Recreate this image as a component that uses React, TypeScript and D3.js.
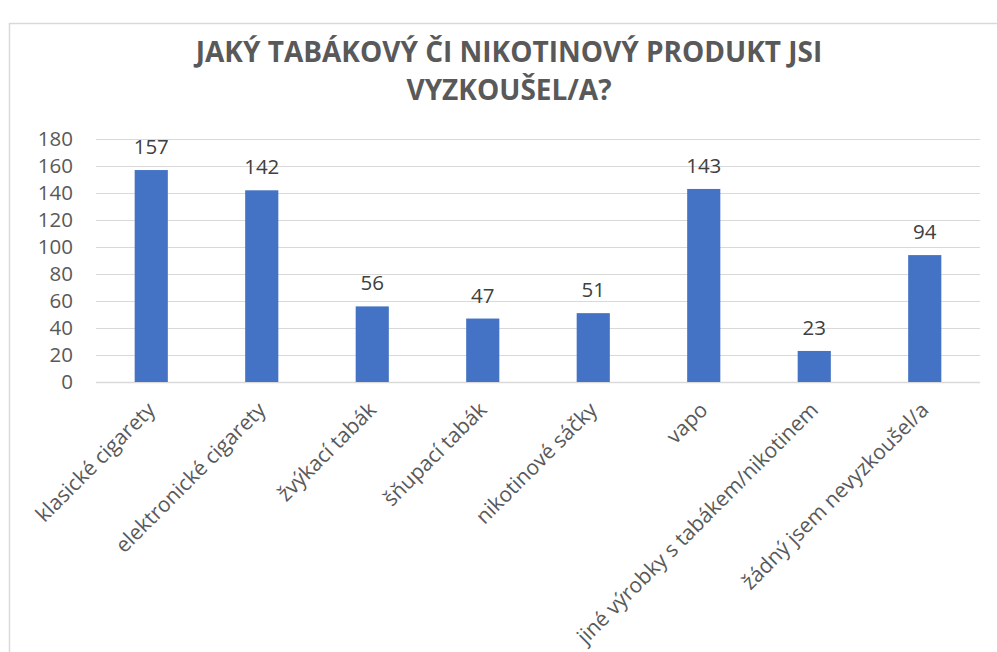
import { useEffect, useRef } from "react";
import * as d3 from "d3";

const categories = [
  "klasické cigarety",
  "elektronické cigarety",
  "žvýkací tabák",
  "šňupací tabák",
  "nikotinové sáčky",
  "vapo",
  "jiné výrobky s tabákem/nikotinem",
  "žádný jsem nevyzkoušel/a",
];
const counts = [157, 142, 56, 47, 51, 143, 23, 94];
const yTicks = [0, 20, 40, 60, 80, 100, 120, 140, 160, 180];
const titleLines = ["JAKÝ TABÁKOVÝ ČI NIKOTINOVÝ PRODUKT JSI", "VYZKOUŠEL/A?"];

export default function App() {
  const ref = useRef<SVGSVGElement | null>(null);

  useEffect(() => {
    const svg = d3.select(ref.current);
    svg.selectAll("*").remove(); // clear before re-render

    const width = 997;
    const height = 652;
    const plot = { left: 96, right: 980, top: 139, bottom: 382 };
    const grey = "#595959";
    const font = "'Open Sans', sans-serif";
    const labelSize = 20.5;

    // chart frame
    svg.append("path")
      .attr("d", `M9.5,${height} V23.5 H${width}`)
      .attr("fill", "none")
      .attr("stroke", "#d9d9d9")
      .attr("stroke-width", 1.5);

    svg.append("g")
      .selectAll("text")
      .data(titleLines)
      .join("text")
      .attr("x", 509)
      .attr("y", (d, i) => 62 + i * 38)
      .attr("text-anchor", "middle")
      .attr("font-family", font)
      .attr("font-weight", 700)
      .attr("font-size", 28)
      .attr("fill", grey)
      .text(d => d);

    const x = d3.scaleBand()
      .domain(categories)
      .range([plot.left, plot.right])
      .paddingInner(0.7)
      .paddingOuter(0.35);

    const y = d3.scaleLinear()
      .domain([0, 180])
      .range([plot.bottom, plot.top]);

    // gridlines
    svg.append("g")
      .selectAll("line")
      .data(yTicks)
      .join("line")
      .attr("x1", plot.left)
      .attr("x2", plot.right)
      .attr("y1", d => Math.round(y(d)) + 0.5)
      .attr("y2", d => Math.round(y(d)) + 0.5)
      .attr("stroke", "#d9d9d9")
      .attr("stroke-width", d => (d === 0 ? 1.5 : 1));

    // y tick labels
    svg.append("g")
      .selectAll("text")
      .data(yTicks)
      .join("text")
      .attr("x", 73)
      .attr("y", d => y(d))
      .attr("dy", "0.35em")
      .attr("text-anchor", "end")
      .attr("font-family", font)
      .attr("font-size", labelSize)
      .attr("fill", grey)
      .text(d => d);

    // bars
    svg.append("g")
      .selectAll("rect")
      .data(counts)
      .join("rect")
      .attr("x", (d, i) => x(categories[i]) ?? 0)
      .attr("y", d => y(d))
      .attr("width", x.bandwidth())
      .attr("height", d => y(0) - y(d))
      .attr("fill", "#4472c4");

    // value labels
    svg.append("g")
      .selectAll("text")
      .data(counts)
      .join("text")
      .attr("x", (d, i) => (x(categories[i]) ?? 0) + x.bandwidth() / 2)
      .attr("y", d => y(d) - 16)
      .attr("text-anchor", "middle")
      .attr("font-family", font)
      .attr("font-size", labelSize)
      .attr("fill", "#404040")
      .text(d => d);

    // category labels, rotated
    svg.append("g")
      .selectAll("text")
      .data(categories)
      .join("text")
      .attr("transform", d => {
        const cx = (x(d) ?? 0) + x.bandwidth() / 2;
        return `translate(${cx},406) rotate(-45)`;
      })
      .attr("dy", "0.35em")
      .attr("text-anchor", "end")
      .attr("font-family", font)
      .attr("font-size", 21)
      .attr("fill", grey)
      .text(d => d);
  }, []);

  return (
    <svg
      ref={ref}
      width={997}
      height={652}
      style={{ position: "absolute", left: 0, top: 0, background: "#fff" }}
    />
  );
}
